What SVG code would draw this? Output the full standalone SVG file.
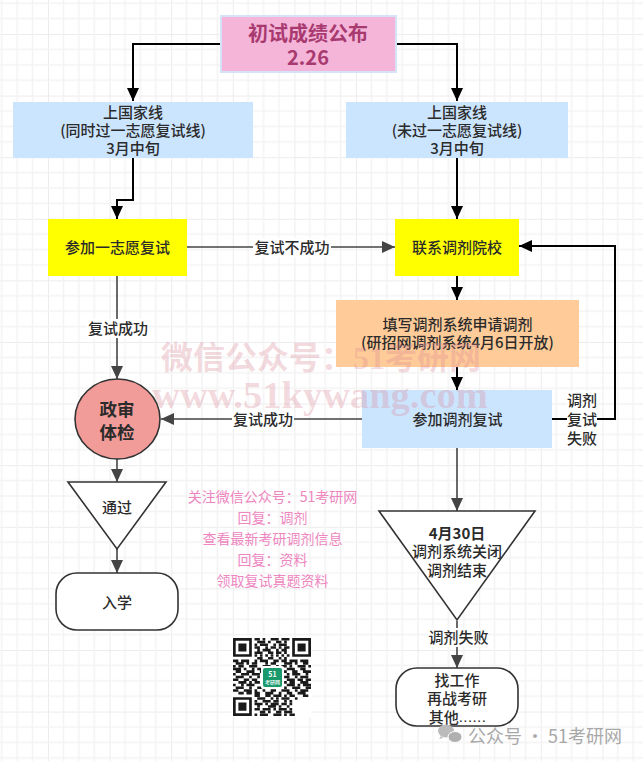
<svg xmlns="http://www.w3.org/2000/svg" width="643" height="761" viewBox="0 0 643 761">
<style>
text{font-family:"Noto Sans CJK SC","Noto Sans",sans-serif;fill:#2b2b2b;font-size:15px;font-weight:500;text-anchor:middle;dominant-baseline:central;transform:translateY(-1px)}
.b{stroke:none}
.ln{fill:none;stroke:#000;stroke-width:2}
.gr{fill:none;stroke:#444;stroke-width:1.6}
.sh{fill:#fff;stroke:#333;stroke-width:1.6}
.lab{fill:#fff;stroke:none}
text.pk{fill:#ee86bf;font-size:14px;font-weight:400}
text.wm{font-weight:700;fill:#d98a98;fill-opacity:.32}
</style>
<defs>
<pattern id="grid" width="61.6" height="61.6" patternUnits="userSpaceOnUse" x="-13.6" y="-27.6">
<path d="M0 0V61.6M0 0H61.6" fill="none" stroke="#ececec" stroke-width="2"/>
<path d="M15.4 0V61.6M30.8 0V61.6M46.2 0V61.6M0 15.4H61.6M0 30.8H61.6M0 46.2H61.6" fill="none" stroke="#f3f3f3" stroke-width="1.5"/>
</pattern>
<marker id="ak" markerUnits="userSpaceOnUse" markerWidth="16" markerHeight="14" refX="13" refY="6" orient="auto"><path d="M0 0L13 6L0 12z" fill="#000"/></marker>
<marker id="ag" markerUnits="userSpaceOnUse" markerWidth="16" markerHeight="14" refX="13" refY="6" orient="auto"><path d="M0 0L13 6L0 12z" fill="#444"/></marker>
</defs>
<rect width="643" height="761" fill="#fff"/>
<rect width="643" height="761" fill="url(#grid)"/>
<g id="connectors">
<path class="ln" marker-end="url(#ak)" d="M221 44H133V101"/>
<path class="ln" marker-end="url(#ak)" d="M396 44H457V101"/>
<path class="ln" marker-end="url(#ak)" d="M133 158V200H117V219"/>
<path class="ln" marker-end="url(#ak)" d="M457 158V219"/>
<path class="gr" marker-end="url(#ag)" d="M187 247H395"/>
<path class="gr" marker-end="url(#ag)" d="M117 276V379"/>
<path class="gr" marker-end="url(#ag)" d="M362 419H161"/>
<path class="ln" marker-end="url(#ak)" d="M552 419H615V246H519"/>
<path class="ln" marker-end="url(#ak)" d="M457 276V300"/>
<path class="ln" marker-end="url(#ak)" d="M457 367V390"/>
<path class="gr" marker-end="url(#ag)" d="M457 448V511"/>
<path class="gr" marker-end="url(#ag)" d="M117 459V482"/>
<path class="gr" marker-end="url(#ag)" d="M117 549V573"/>
<path class="gr" marker-end="url(#ag)" d="M457 621V668"/>
<rect class="lab" x="253" y="238" width="78" height="19"/><text x="292" y="247.500">复试不成功</text>
<rect class="lab" x="87" y="319" width="62" height="19"/><text x="118" y="328">复试成功</text>
<rect class="lab" x="232" y="410" width="62" height="19"/><text x="263" y="419.500">复试成功</text>
<rect class="lab" x="567" y="391" width="30" height="56"/><text x="582" y="400">调剂</text><text x="582" y="419.500">复试</text><text x="582" y="438">失败</text>
<rect class="lab" x="428" y="628" width="60" height="19"/><text x="458.500" y="637">调剂失败</text>
</g>
<g id="n-title"><rect x="221" y="16" width="175" height="56" fill="#f5b5d9" stroke="#d6e2f8" stroke-width="2"/><text x="308" y="33" style="font-size:20px;fill:#a83a70;font-weight:700">初试成绩公布</text><text x="308" y="57" style="font-size:20px;fill:#a83a70;font-weight:700">2.26</text></g>
<g id="n-left-line"><rect class="b" x="13" y="102" width="240" height="56" fill="#cce5ff"/><text x="133" y="112">上国家线</text><text x="133" y="130">(同时过一志愿复试线)</text><text x="133" y="148">3月中旬</text></g>
<g id="n-right-line"><rect class="b" x="346" y="102" width="222" height="56" fill="#cce5ff"/><text x="457" y="112">上国家线</text><text x="457" y="130">(未过一志愿复试线)</text><text x="457" y="148">3月中旬</text></g>
<g id="n-first-choice"><rect class="b" x="48" y="219" width="139" height="57" fill="#ffff00"/><text x="117.500" y="247.500">参加一志愿复试</text></g>
<g id="n-contact"><rect class="b" x="395" y="219" width="124" height="57" fill="#ffff00"/><text x="457" y="247.500">联系调剂院校</text></g>
<g id="n-apply"><rect class="b" x="336" y="300" width="243" height="67" fill="#ffcc99"/><text x="457.500" y="324">填写调剂系统申请调剂</text><text x="457.500" y="342.500">(研招网调剂系统4月6日开放)</text></g>
<g id="n-retest"><rect class="b" x="362" y="390" width="190" height="58" fill="#cce5ff"/><text x="457.500" y="419">参加调剂复试</text></g>
<g id="n-political"><ellipse cx="117.500" cy="419" rx="42.500" ry="40" fill="#f19c99" stroke="#333" stroke-width="1.600"/><text x="117" y="409" style="font-size:17.500px;font-weight:700">政审</text><text x="117" y="432" style="font-size:17.500px;font-weight:700">体检</text></g>
<g id="n-pass"><path class="sh" d="M68 482H166L117 549z"/><text x="117" y="507">通过</text></g>
<g id="n-enroll"><rect class="sh" x="56" y="573" width="122" height="57" rx="21" ry="21"/><text x="117" y="602">入学</text></g>
<g id="n-close"><path class="sh" d="M379 511H535L457 620z"/><text x="457" y="533" style="font-weight:700">4月30日</text><text x="457" y="551.500">调剂系统关闭</text><text x="457" y="570">调剂结束</text></g>
<g id="n-job"><rect class="sh" x="396" y="668" width="122" height="58" rx="21" ry="21"/><text x="457" y="680">找工作</text><text x="457" y="698">再战考研</text><text x="457.500" y="717">其他<tspan style="font-family:'Liberation Sans',sans-serif;letter-spacing:.4px">......</tspan></text></g>
<g id="watermark">
<text class="wm" x="321" y="359" style="font-size:32px;font-family:'Liberation Serif','Noto Sans CJK SC',serif">微信公众号：51考研网</text>
<text class="wm" x="320" y="396" style="font-size:38.500px;font-family:'Liberation Serif',serif">www.51kywang.com</text>
</g>
<g id="promo">
<text class="pk" x="272.500" y="497">关注微信公众号：51考研网</text>
<text class="pk" x="272.500" y="518">回复：调剂</text>
<text class="pk" x="272.500" y="539">查看最新考研调剂信息</text>
<text class="pk" x="272.500" y="560">回复：资料</text>
<text class="pk" x="272.500" y="581">领取复试真题资料</text>
</g>
<g id="qr">
<rect x="232" y="637" width="80" height="80" fill="#fff"/>
<g transform="translate(233 638) scale(2.690)" fill="none" stroke="#1a1a1a">
<path stroke-width="1" d="M.5 .5h6v6h-6zM22.500 .5h6v6h-6zM.5 22.500h6v6h-6z"/>
<path stroke="none" fill="#1a1a1a" d="M2 2h3v3h-3zM24 2h3v3h-3zM2 24h3v3h-3z"/>
<path stroke-width=".95" d="M8 .5h2M11 .5h1M14 .5h3M18 .5h3M9 1.500h3M13 1.500h1M16 1.500h2M19 1.500h1M8 2.500h1M10 2.500h3M15 2.500h1M17 2.500h3M8 3.500h2M12 3.500h1M14 3.500h2M17 3.500h1M19 3.500h2M9 4.500h1M11 4.500h3M16 4.500h1M18 4.500h2M8 5.500h3M13 5.500h2M16 5.500h2M19 5.500h1M8 6.500h1M10 6.500h1M12 6.500h1M14 6.500h1M16 6.500h1M18 6.500h1M20 6.500h1M9 7.500h2M13 7.500h2M17 7.500h1M19 7.500h1
M0 8.500h2M3 8.500h3M8 8.500h1M10 8.500h3M15 8.500h2M18 8.500h2M21 8.500h3M25 8.500h3M1 9.500h3M5 9.500h1M7 9.500h2M12 9.500h1M14 9.500h2M19 9.500h3M23 9.500h1M26 9.500h2M0 10.500h1M2 10.500h2M6 10.500h3M11 10.500h3M16 10.500h1M18 10.500h2M21 10.500h1M24 10.500h3M28 10.500h1M0 11.500h3M4 11.500h1M7 11.500h1M9 11.500h2M13 11.500h3M20 11.500h3M25 11.500h2M1 12.500h2M5 12.500h3M10 12.500h1M18 12.500h2M22 12.500h2M26 12.500h3M0 13.500h1M3 13.500h3M7 13.500h3M20 13.500h1M22 13.500h3M27 13.500h1M1 14.500h3M6 14.500h1M9 14.500h1M19 14.500h2M23 14.500h1M25 14.500h3M0 15.500h2M4 15.500h2M7 15.500h2M20 15.500h3M24 15.500h2M27 15.500h2M2 16.500h3M6 16.500h1M8 16.500h2M19 16.500h1M21 16.500h2M25 16.500h3M0 17.500h1M3 17.500h1M5 17.500h3M20 17.500h3M24 17.500h1M26 17.500h3M1 18.500h3M6 18.500h1M9 18.500h2M13 18.500h2M16 18.500h2M19 18.500h1M22 18.500h3M27 18.500h2M0 19.500h2M4 19.500h3M8 19.500h1M11 19.500h1M14 19.500h2M18 19.500h3M23 19.500h1M25 19.500h3M2 20.500h2M5 20.500h2M8 20.500h2M12 20.500h3M17 20.500h1M20 20.500h2M24 20.500h3
M8 21.500h2M12 21.500h2M15 21.500h3M19 21.500h1M21 21.500h2M26 21.500h2M9 22.500h3M14 22.500h1M16 22.500h1M18 22.500h3M23 22.500h1M8 23.500h1M11 23.500h3M15 23.500h2M19 23.500h1M21 23.500h1M8 24.500h3M12 24.500h1M14 24.500h3M18 24.500h2M21 24.500h1M9 25.500h1M13 25.500h3M17 25.500h1M20 25.500h1M8 26.500h2M11 26.500h3M15 26.500h1M17 26.500h3M21 26.500h1M10 27.500h2M13 27.500h1M16 27.500h2M19 27.500h3M8 28.500h1M10 28.500h3M15 28.500h3M19 28.500h1M21 28.500h2"/>
</g>
<rect x="261" y="666" width="23" height="23" rx="2" fill="#fff"/>
<rect x="263" y="668" width="19" height="19" rx="2" fill="#1a9a6c"/>
<text x="272.500" y="674.500" style="font-size:7px;fill:#fff;font-weight:700">51</text>
<text x="272.500" y="682" style="font-size:5px;fill:#fff">考研网</text>
</g>
<g id="footer">
<ellipse cx="446" cy="731" rx="8" ry="6.500" fill="#bbb"/>
<path d="M441 736l-2 3 4-1z" fill="#bbb"/>
<ellipse cx="455" cy="737" rx="7" ry="5.500" fill="#b0b0b0" stroke="#fff"/>
<text x="545" y="736" style="font-size:18px;fill:#a8a8a8;font-weight:400">公众号 · 51考研网</text>
</g>
</svg>
